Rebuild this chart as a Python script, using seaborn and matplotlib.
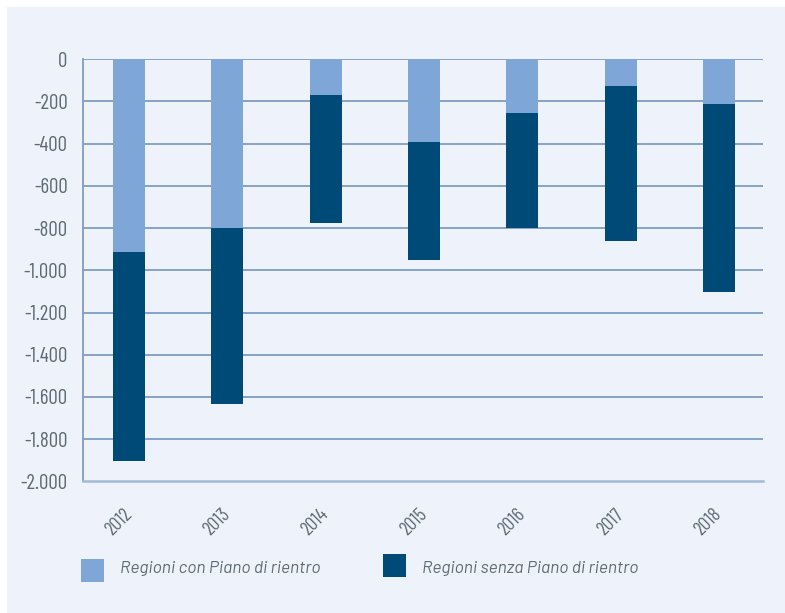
import matplotlib
matplotlib.use("Agg")
import matplotlib.pyplot as plt
import matplotlib.patches as mpatches
import matplotlib.transforms as mtransforms
from matplotlib import font_manager
import seaborn as sns
import pandas as pd

years = ["2012", "2013", "2014", "2015", "2016", "2017", "2018"]
con_piano = [-913, -800, -170, -392, -254, -127, -212]
senza_piano = [-991, -832, -607, -559, -546, -735, -892]
series_names = ["Regioni con Piano di rientro", "Regioni senza Piano di rientro"]
yticks = [0, -200, -400, -600, -800, -1000, -1200, -1400, -1600, -1800, -2000]

sns.set_theme(style="white")

names = {f.name for f in font_manager.fontManager.ttflist}
FAM = [f for f in ["Barlow Condensed", "Roboto Condensed", "DejaVu Sans"] if f in names]
LEG_FAM = [f for f in ["Barlow", "Barlow Semi Condensed", "DejaVu Sans"] if f in names]
plt.rcParams["font.family"] = FAM

LIGHT = "#7ea7d8"
DARK = "#004a77"
BG = "#eef2fa"
GRID = "#7f9dc0"
AXIS_LIGHT = "#a3bad6"
TXT = "#5e6a74"

fig = plt.figure(figsize=(7.85, 6.13), dpi=100)
fig.patch.set_facecolor("white")
fig.patches.append(mpatches.Rectangle((7 / 785, 0), 778 / 785, 606 / 613,
                                      transform=fig.transFigure, facecolor=BG,
                                      edgecolor="none", zorder=-10))

ax = fig.add_axes([83 / 785, 131.7 / 613, 680 / 785, 422 / 613])
ax.set_facecolor(BG)

df = pd.DataFrame({"anno": years, "con": con_piano, "senza": senza_piano})
df["totale"] = df["con"] + df["senza"]

sns.barplot(data=df, x="anno", y="totale", color=DARK, width=0.325,
            saturation=1, linewidth=0, ax=ax, zorder=3)
sns.barplot(data=df, x="anno", y="con", color=LIGHT, width=0.325,
            saturation=1, linewidth=0, ax=ax, zorder=4)

ax.set_xlim(-0.468, 6.447)
ax.set_ylim(-2000, 0)
ax.set_yticks(yticks)
ax.set_yticklabels([("{:,}".format(v)).replace(",", ".") for v in yticks],
                   fontsize=15, color=TXT)
shift = mtransforms.ScaledTranslation(0, 5 / 100, fig.dpi_scale_trans)
for lab in ax.get_yticklabels():
    lab.set_transform(lab.get_transform() + shift)
for v in yticks[1:-1]:
    ax.axhline(v, color=GRID, lw=1.3, zorder=1)
ax.axhline(0, color=GRID, lw=1.3, zorder=1)

ax.set_xticks(range(len(years)))
ax.set_xticklabels(years, rotation=45, ha="right", va="center",
                   rotation_mode="anchor", fontsize=14, color=TXT)
ax.set_xticks([i + 0.47 for i in range(len(years) - 1)], minor=True)
ax.tick_params(axis="x", which="major", length=0, pad=22)
ax.tick_params(axis="x", which="minor", length=15, width=1.5,
               color=AXIS_LIGHT, direction="out")
ax.tick_params(axis="y", length=0, pad=11)

ax.set_xlabel("")
ax.set_ylabel("")
for s in ["top", "right"]:
    ax.spines[s].set_visible(False)
ax.spines["left"].set_color(GRID)
ax.spines["left"].set_linewidth(1.3)
ax.spines["bottom"].set_color(AXIS_LIGHT)
ax.spines["bottom"].set_linewidth(1.8)

# legend
fig.patches.append(mpatches.Rectangle((81 / 785, 1 - 582 / 613), 23 / 785, 23 / 613,
                                      transform=fig.transFigure, facecolor=LIGHT,
                                      edgecolor="none"))
fig.text(120 / 785, 1 - 569 / 613, series_names[0], fontsize=12.5, style="italic",
         color=TXT, va="center", ha="left", family=LEG_FAM)
fig.patches.append(mpatches.Rectangle((383 / 785, 1 - 577 / 613), 23 / 785, 23 / 613,
                                      transform=fig.transFigure, facecolor=DARK,
                                      edgecolor="none"))
fig.text(422 / 785, 1 - 569 / 613, series_names[1], fontsize=12.5, style="italic",
         color=TXT, va="center", ha="left", family=LEG_FAM)

fig.savefig("out.png", dpi=100, facecolor=fig.get_facecolor())
